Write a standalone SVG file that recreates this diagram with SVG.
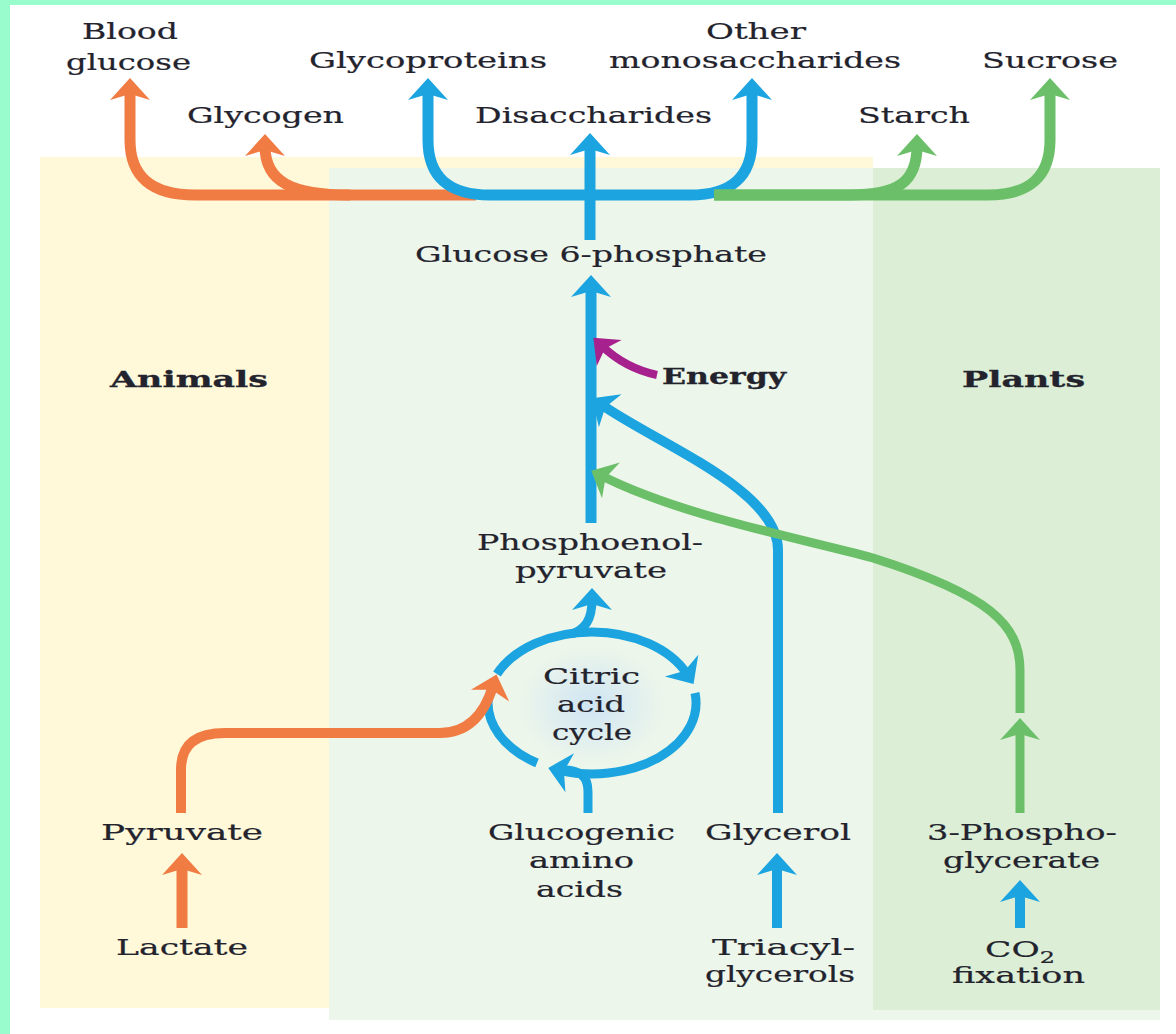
<svg xmlns="http://www.w3.org/2000/svg" width="1176" height="1034" viewBox="0 0 1176 1034">
<style>
text{font-family:"DejaVu Serif","Liberation Serif",serif;font-size:23px;fill:#23232d;stroke:#23232d;stroke-width:0.2px}
.b{font-weight:bold;stroke-width:0.3px}
.ln{fill:none;stroke-linecap:butt;stroke-linejoin:round}
.o{stroke:#f07c44}.u{stroke:#1ba4e0}.g{stroke:#6bbf69}.m{stroke:#a6218e}
</style>
<defs>
<marker id="ao" markerUnits="userSpaceOnUse" viewBox="-12 -22 26 44" markerWidth="26" markerHeight="44" refX="0" refY="0" orient="auto"><path d="M12,0 L-10,-20 L-4,0 L-10,20 Z" fill="#f07c44"/></marker>
<marker id="au" markerUnits="userSpaceOnUse" viewBox="-12 -22 26 44" markerWidth="26" markerHeight="44" refX="0" refY="0" orient="auto"><path d="M12,0 L-10,-20 L-4,0 L-10,20 Z" fill="#1ba4e0"/></marker>
<marker id="ag" markerUnits="userSpaceOnUse" viewBox="-12 -22 26 44" markerWidth="26" markerHeight="44" refX="0" refY="0" orient="auto"><path d="M12,0 L-10,-20 L-4,0 L-10,20 Z" fill="#6bbf69"/></marker>
<marker id="am" markerUnits="userSpaceOnUse" viewBox="-12 -22 26 44" markerWidth="26" markerHeight="44" refX="0" refY="0" orient="auto"><path d="M12,0 L-10,-18 L-4,0 L-10,18 Z" fill="#a6218e"/></marker>
<radialGradient id="glow" cx="0.5" cy="0.5" r="0.5">
<stop offset="0" stop-color="#cfe5f4"/><stop offset="1" stop-color="#cfe5f4" stop-opacity="0"/>
</radialGradient>
</defs>

<g id="background">
<rect x="0" y="0" width="1176" height="1034" fill="#99fccc"/>
<rect x="10" y="5" width="1166" height="1029" fill="#ffffff"/>
<rect id="animals-panel" x="40" y="157" width="833" height="851" fill="#fff9da"/>
<rect id="middle-panel" x="329" y="168" width="831" height="852" fill="#edf6ea"/>
<rect id="plants-panel" x="873" y="168" width="287" height="842" fill="#dcefd6"/>
<ellipse cx="592" cy="705" rx="75" ry="60" fill="url(#glow)"/>
</g>

<g id="connectors">
<!-- top branches -->
<path class="ln o" stroke-width="11" d="M476 195 H195 Q130 195 130 140 V90" marker-end="url(#ao)"/>
<path class="ln o" stroke-width="11" d="M350 195 C292 195 265 182 265 146" marker-end="url(#ao)"/>
<path class="ln u" stroke-width="11" d="M592 195 H490 Q428 195 428 140 V90" marker-end="url(#au)"/>
<path class="ln u" stroke-width="11" d="M592 195 H690 Q752 195 752 140 V90" marker-end="url(#au)"/>
<path class="ln g" stroke-width="11" d="M714 195 H850 C898 195 917 182 917 146" marker-end="url(#ag)"/>
<path class="ln g" stroke-width="11" d="M714 195 H988 Q1050 195 1050 140 V90" marker-end="url(#ag)"/>
<path class="ln u" stroke-width="11" d="M590 240 V145" marker-end="url(#au)"/>
<!-- trunk -->
<path class="ln u" stroke-width="11" d="M591 523 V287" marker-end="url(#au)"/>
<path class="ln m" stroke-width="8" d="M657 375 Q625 368 602 346" marker-end="url(#am)"/>
<path class="ln u" stroke-width="10" d="M778 813 V550 C778 490 660 445 602 405" marker-end="url(#au)"/>
<path class="ln g" stroke-width="9" d="M1020 813 V730" marker-end="url(#ag)"/>
<path class="ln g" stroke-width="9" d="M1020 713 V670 C1020 625 990 595 873 558 C790 536 680 515 602 476" marker-end="url(#ag)"/>
<!-- citric acid cycle -->
<path class="ln u" stroke-width="9" d="M497 674 A104 71 0 0 1 687 674" marker-end="url(#au)"/>
<path class="ln u" stroke-width="9" d="M695 693 A104 71 0 0 1 560 770.5" marker-end="url(#au)"/>
<path class="ln u" stroke-width="9" d="M537 763 A104 71 0 0 1 488.4 696.8"/>
<path class="ln u" stroke-width="9" d="M572 634 C585 629 592 620 592 600" marker-end="url(#au)"/>
<path class="ln u" stroke-width="9" d="M588 813 V792 C588 776 580 769 560 770"/>
<path class="ln o" stroke-width="10" d="M181 813 V770 C181 745 195 733 225 733 H440 C470 733 485 712 493 686" marker-end="url(#ao)"/>
<!-- bottom inputs -->
<path class="ln o" stroke-width="11" d="M182 928 V865" marker-end="url(#ao)"/>
<path class="ln u" stroke-width="10" d="M777 928 V865" marker-end="url(#au)"/>
<path class="ln u" stroke-width="10" d="M1020 928 V892" marker-end="url(#au)"/>
</g>

<g id="node-blood-glucose"><text x="82" y="39" textLength="96" lengthAdjust="spacingAndGlyphs">Blood</text><text x="66" y="70" textLength="125" lengthAdjust="spacingAndGlyphs">glucose</text></g>
<g id="node-glycoproteins"><text x="309" y="68" textLength="238" lengthAdjust="spacingAndGlyphs">Glycoproteins</text></g>
<g id="node-glycogen"><text x="187" y="123" textLength="157" lengthAdjust="spacingAndGlyphs">Glycogen</text></g>
<g id="node-disaccharides"><text x="475" y="123" textLength="237" lengthAdjust="spacingAndGlyphs">Disaccharides</text></g>
<g id="node-other-monosaccharides"><text x="706" y="39" textLength="100" lengthAdjust="spacingAndGlyphs">Other</text><text x="609" y="68" textLength="292" lengthAdjust="spacingAndGlyphs">monosaccharides</text></g>
<g id="node-sucrose"><text x="982" y="68" textLength="136" lengthAdjust="spacingAndGlyphs">Sucrose</text></g>
<g id="node-starch"><text x="858" y="123" textLength="112" lengthAdjust="spacingAndGlyphs">Starch</text></g>
<g id="node-glucose-6-phosphate"><text x="415" y="262" textLength="352" lengthAdjust="spacingAndGlyphs">Glucose 6-phosphate</text></g>
<g id="label-animals"><text class="b" x="110" y="387" textLength="158" lengthAdjust="spacingAndGlyphs">Animals</text></g>
<g id="node-energy"><text class="b" x="662" y="384" textLength="124" lengthAdjust="spacingAndGlyphs">Energy</text></g>
<g id="label-plants"><text class="b" x="962" y="387" textLength="123" lengthAdjust="spacingAndGlyphs">Plants</text></g>
<g id="node-pep"><text x="477" y="550" textLength="226" lengthAdjust="spacingAndGlyphs">Phosphoenol-</text><text x="515" y="578" textLength="152" lengthAdjust="spacingAndGlyphs">pyruvate</text></g>
<g id="node-citric-acid-cycle"><text x="543" y="684" textLength="97" lengthAdjust="spacingAndGlyphs">Citric</text><text x="557" y="712" textLength="68" lengthAdjust="spacingAndGlyphs">acid</text><text x="552" y="740" textLength="80" lengthAdjust="spacingAndGlyphs">cycle</text></g>
<g id="node-pyruvate"><text x="101" y="840" textLength="162" lengthAdjust="spacingAndGlyphs">Pyruvate</text></g>
<g id="node-lactate"><text x="116" y="955" textLength="132" lengthAdjust="spacingAndGlyphs">Lactate</text></g>
<g id="node-glucogenic-amino-acids"><text x="488" y="840" textLength="187" lengthAdjust="spacingAndGlyphs">Glucogenic</text><text x="529" y="868" textLength="105" lengthAdjust="spacingAndGlyphs">amino</text><text x="536" y="897" textLength="87" lengthAdjust="spacingAndGlyphs">acids</text></g>
<g id="node-glycerol"><text x="705" y="840" textLength="146" lengthAdjust="spacingAndGlyphs">Glycerol</text></g>
<g id="node-triacylglycerols"><text x="712" y="955" textLength="143" lengthAdjust="spacingAndGlyphs">Triacyl-</text><text x="705" y="982" textLength="150" lengthAdjust="spacingAndGlyphs">glycerols</text></g>
<g id="node-3-phosphoglycerate"><text x="927" y="840" textLength="190" lengthAdjust="spacingAndGlyphs">3-Phospho-</text><text x="943" y="868" textLength="157" lengthAdjust="spacingAndGlyphs">glycerate</text></g>
<g id="node-co2-fixation"><text transform="translate(985,957) scale(1.5,1)">CO<tspan font-size="16" dy="6">2</tspan></text><text x="952" y="983" textLength="133" lengthAdjust="spacingAndGlyphs">fixation</text></g>
</svg>
